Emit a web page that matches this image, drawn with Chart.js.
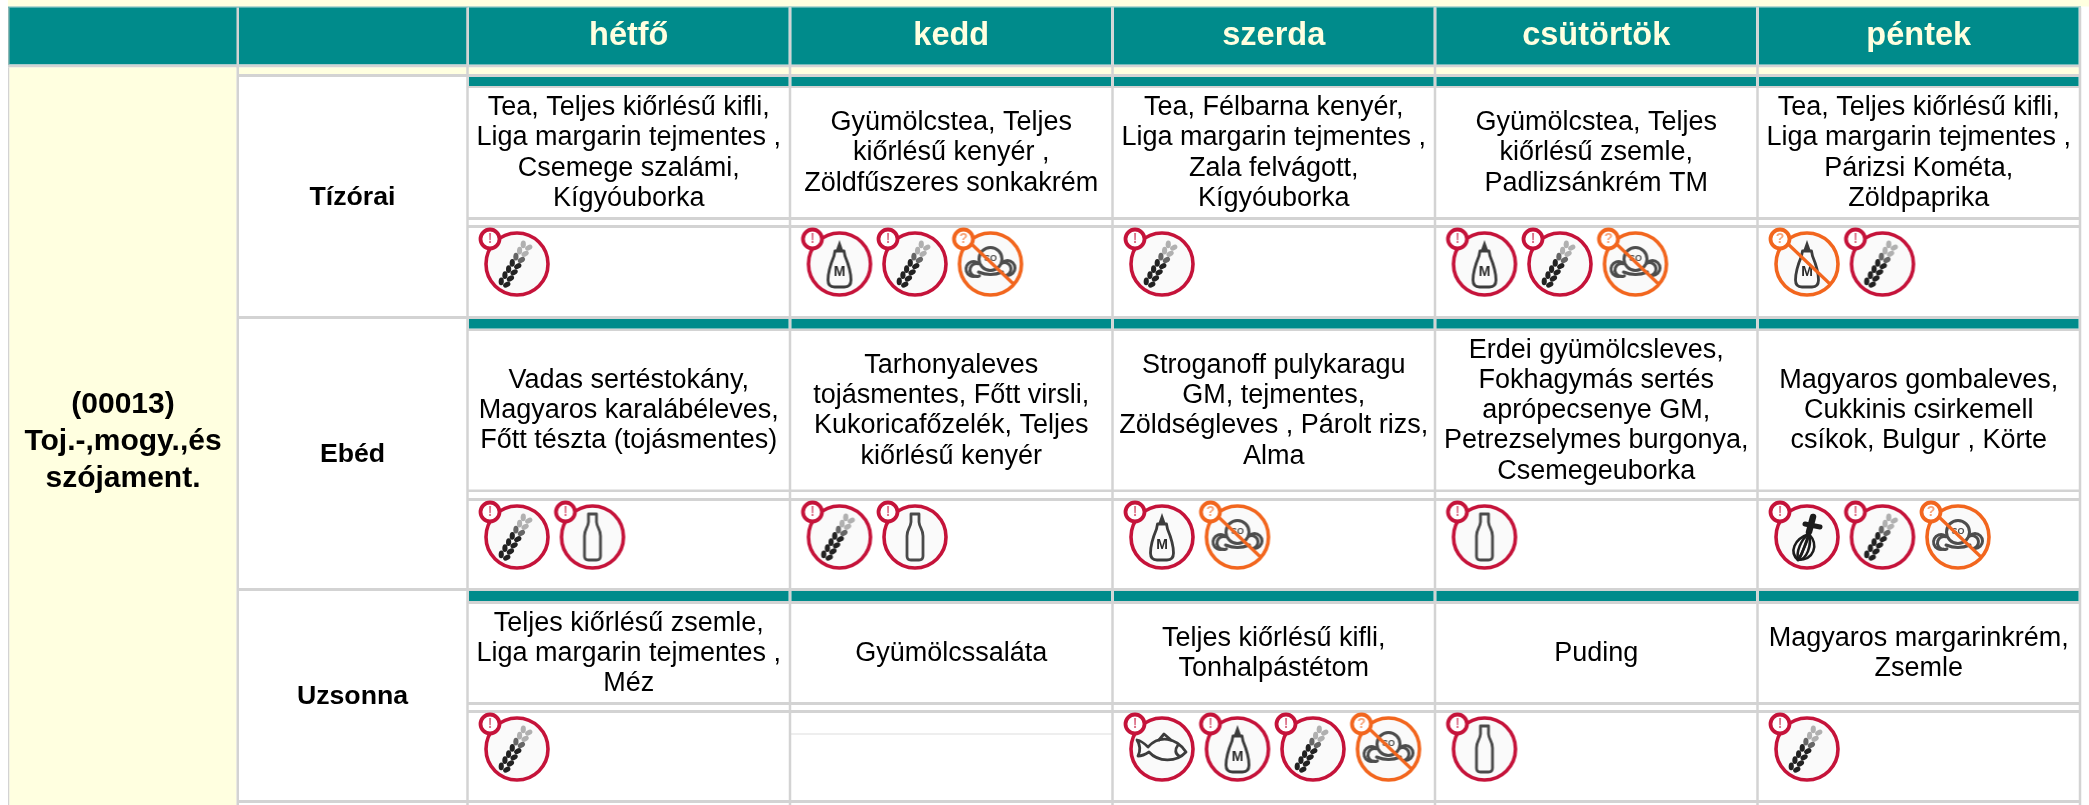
<!DOCTYPE html>
<html lang="hu">
<head>
<meta charset="utf-8">
<title>Étlap</title>
<script src="https://cdn.jsdelivr.net/npm/chart.js@4/dist/chart.umd.min.js"></script>
<style>html,body{margin:0;padding:0;background:#fff;overflow:hidden}canvas{display:block}</style>
</head>
<body>
<canvas id="c" width="2089" height="805"></canvas>
<script>
// ---------- content ----------
const days = ['hétfő','kedd','szerda','csütörtök','péntek'];
const meals = ['Tízórai','Ebéd','Uzsonna'];
const dietLabel = ['(00013)','Toj.-,mogy.,és','szójament.'];
const menuTizorai = [
  ['Tea, Teljes kiőrlésű kifli,','Liga margarin tejmentes ,','Csemege szalámi,','Kígyóuborka'],
  ['Gyümölcstea, Teljes','kiőrlésű kenyér ,','Zöldfűszeres sonkakrém'],
  ['Tea, Félbarna kenyér,','Liga margarin tejmentes ,','Zala felvágott,','Kígyóuborka'],
  ['Gyümölcstea, Teljes','kiőrlésű zsemle,','Padlizsánkrém TM'],
  ['Tea, Teljes kiőrlésű kifli,','Liga margarin tejmentes ,','Párizsi Kométa,','Zöldpaprika']
];
const menuEbed = [
  ['Vadas sertéstokány,','Magyaros karalábéleves,','Főtt tészta (tojásmentes)'],
  ['Tarhonyaleves','tojásmentes, Főtt virsli,','Kukoricafőzelék, Teljes','kiőrlésű kenyér'],
  ['Stroganoff pulykaragu','GM, tejmentes,','Zöldségleves , Párolt rizs,','Alma'],
  ['Erdei gyümölcsleves,','Fokhagymás sertés','aprópecsenye GM,','Petrezselymes burgonya,','Csemegeuborka'],
  ['Magyaros gombaleves,','Cukkinis csirkemell','csíkok, Bulgur , Körte']
];
const menuUzsonna = [
  ['Teljes kiőrlésű zsemle,','Liga margarin tejmentes ,','Méz'],
  ['Gyümölcssaláta'],
  ['Teljes kiőrlésű kifli,','Tonhalpástétom'],
  ['Puding'],
  ['Magyaros margarinkrém,','Zsemle']
];
const iconsTizorai = [['wheat'],['mustard','wheat','soy'],['wheat'],['mustard','wheat','soy'],['mustardMaybe','wheat']];
const iconsEbed = [['wheat','milk'],['wheat','milk'],['mustard','soy'],['milk'],['whisk','wheat','soy']];
const iconsUzsonna = [['wheat'],[],['fish','mustard','wheat','soy'],['milk'],['wheat']];

// ---------- layout (page bands, in y-axis units) ----------
const rowBands = [
  {strip:[77,86],  text:[88,217],  gapA:[217,220], gapB:[225,228], icons:[228,316], end:[316,319]},
  {strip:[319,328.5],text:[331,489.5],gapA:[489.5,492],gapB:[498,501], icons:[501,588], end:[588,591]},
  {strip:[591,601],text:[604,702], gapA:[702,705], gapB:[710,713], icons:[713,800], end:[800,803]}
];
const headerBand = [7.5,64.5];
const menus = [menuTizorai, menuEbed, menuUzsonna];
const iconRows = [iconsTizorai, iconsEbed, iconsUzsonna];
const TEAL='#008B8B', PALE='#FFFFE0', GRID='#D3D3D3';
const RED='#C5133A', ORANGE='#F2661E', INK='#3a3a3a';
const FONT='"Liberation Sans", Arial, sans-serif';

// ---------- allergen pictograms ----------
function base(ring, mark){
  const cv=document.createElement('canvas'); cv.width=88; cv.height=88;
  const g=cv.getContext('2d');
  g.filter='blur(0.7px)';
  g.translate(44,44);
  g.fillStyle='#fafafa'; g.strokeStyle=ring; g.lineWidth=3.6;
  g.beginPath(); g.arc(0,0,31,0,Math.PI*2); g.fill(); g.stroke();
  g.fillStyle='#fff'; g.lineWidth=3.8;
  g.beginPath(); g.arc(-27,-25,9.5,0,Math.PI*2); g.fill(); g.stroke();
  g.fillStyle=ring; g.globalAlpha=.6; g.font='bold 14px '+FONT; g.textAlign='center'; g.textBaseline='middle';
  g.fillText(mark,-27,-25); g.globalAlpha=1;
  return g;
}
function pictogram(ring, mark, draw){
  const g=base(ring,mark);
  g.strokeStyle=INK; g.fillStyle=INK; g.lineWidth=2.6; g.lineJoin='round'; g.lineCap='round';
  draw(g);
  return g.canvas;
}
function drawWheat(g){
  const ax=-13,ay=19,bx=9,by=-18,n=7;
  const ang=Math.atan2(by-ay,bx-ax);
  for(let i=0;i<n;i++){
    const t=i/(n-1), x=ax+(bx-ax)*t, y=ay+(by-ay)*t;
    g.fillStyle = t>0.8 ? '#b0b0b0' : (t>0.6?'#666':'#222');
    for(const s of [-1,1]){
      g.save(); g.translate(x+Math.cos(ang+Math.PI/2)*s*3.2,y+Math.sin(ang+Math.PI/2)*s*3.2);
      g.rotate(ang+s*0.5); g.beginPath(); g.ellipse(0,0,3.9,2.6,0,0,Math.PI*2); g.fill(); g.restore();
    }
  }
}
function drawMilk(g){
  g.strokeStyle='#4a4a4a'; g.lineWidth=2.8;
  g.beginPath();
  g.moveTo(-4,-23); g.lineTo(4,-23); g.lineTo(4,-15);
  g.bezierCurveTo(4.5,-9,8,-8,8,-1); g.lineTo(8,19);
  g.quadraticCurveTo(8,23,4,23); g.lineTo(-4,23); g.quadraticCurveTo(-8,23,-8,19);
  g.lineTo(-8,-1); g.bezierCurveTo(-8,-8,-4.5,-9,-4,-15); g.closePath(); g.stroke();
}
function drawMustard(g){
  g.fillStyle='#3c3c3c';
  g.beginPath(); g.moveTo(0,-24); g.lineTo(3.5,-14); g.lineTo(-3.5,-14); g.closePath(); g.fill();
  g.lineWidth=2.8; g.strokeStyle='#3c3c3c';
  g.beginPath();
  g.moveTo(-4.5,-13); g.lineTo(4.5,-13); g.lineTo(5.5,-8);
  g.bezierCurveTo(8,-2,11.5,8,11.5,16); g.quadraticCurveTo(11.5,23,5,23); g.lineTo(-5,23);
  g.quadraticCurveTo(-11.5,23,-11.5,16); g.bezierCurveTo(-11.5,8,-8,-2,-5.5,-8); g.closePath(); g.stroke();
  g.fillStyle='#2a2a2a'; g.font='bold 14px '+FONT; g.textAlign='center'; g.textBaseline='middle'; g.fillText('M',0,8);
}
function strike(g){
  g.strokeStyle=ORANGE; g.lineWidth=3.2; g.lineCap='butt';
  g.beginPath(); g.moveTo(-19,-20); g.lineTo(23,20); g.stroke();
}
function drawSoy(g){
  g.strokeStyle='#4d4d4d'; g.lineWidth=3;
  g.beginPath(); g.arc(0,-5,11.5,0,Math.PI*2); g.stroke();
  g.beginPath(); g.arc(-17,5,7.5,Math.PI*.4,Math.PI*1.7); g.stroke();
  g.beginPath(); g.arc(-14,6,6.5,Math.PI*.35,Math.PI*1.6); g.stroke();
  g.beginPath(); g.arc(17,4,7.5,-Math.PI*.75,Math.PI*.5); g.stroke();
  g.beginPath(); g.arc(14,5,6.5,-Math.PI*.65,Math.PI*.4); g.stroke();
  g.beginPath(); g.moveTo(-12,8); g.quadraticCurveTo(0,13,12,8); g.stroke();
  g.fillStyle='#4d4d4d'; g.font='bold 9px '+FONT; g.textAlign='center'; g.textBaseline='middle'; g.fillText('SO',0,-5);
  strike(g);
}
function drawFish(g){
  g.strokeStyle='#3c3c3c'; g.lineWidth=2.8;
  g.beginPath();
  g.moveTo(-14,-2);
  g.quadraticCurveTo(-20,-8,-25,-9); g.quadraticCurveTo(-20,-1,-24,7);
  g.quadraticCurveTo(-19,7,-13,3);
  g.bezierCurveTo(-4,13,14,14,24,3);
  g.bezierCurveTo(14,-12,-3,-14,-14,-2); g.stroke();
  g.beginPath(); g.moveTo(-3,-9); g.lineTo(2,-15); g.lineTo(9,-9); g.stroke();
  g.beginPath(); g.moveTo(16,-4); g.quadraticCurveTo(11,3,17,7); g.stroke();
}
function drawWhisk(g){
  g.strokeStyle='#1c1c1c'; g.fillStyle='#1c1c1c';
  g.lineWidth=6.5; g.beginPath(); g.moveTo(6,-20); g.lineTo(2,-5); g.stroke();
  g.lineWidth=5; g.beginPath(); g.moveTo(-2,-13); g.lineTo(13,-10); g.stroke();
  g.lineWidth=2.6;
  for(const k of [-11,-4,3]){
    g.beginPath(); g.moveTo(2,-3); g.bezierCurveTo(k-2,2,k-7,15,-9,23); g.bezierCurveTo(k+4,23,k+9,8,2,-3); g.stroke();
  }
}
const iconCanvas = {
  wheat: pictogram(RED,'!',drawWheat),
  milk: pictogram(RED,'!',drawMilk),
  mustard: pictogram(RED,'!',drawMustard),
  mustardMaybe: pictogram(ORANGE,'?',g=>{drawMustard(g); strike(g);}),
  soy: pictogram(ORANGE,'?',drawSoy),
  fish: pictogram(RED,'!',drawFish),
  whisk: pictogram(RED,'!',drawWhisk)
};

// ---------- datasets ----------
const BAND=322.5, FIRST_ICON=49.5, ICON_STEP=75.5, ICON_DROP=36;
const bar = (band) => days.map(()=>band);
const barDatasets = [headerBand, ...rowBands.map(r=>r.strip)].map(b=>({
  type:'bar', data:bar(b), backgroundColor:TEAL, grouped:false,
  categoryPercentage:1, barPercentage:.991, order:2, xAxisID:'x', yAxisID:'y'
}));
const iconDatasets = Object.keys(iconCanvas).map(kind=>{
  const pts=[];
  iconRows.forEach((row,r)=>row.forEach((list,d)=>list.forEach((k,s)=>{
    if(k===kind) pts.push({x:d-.5+(FIRST_ICON+s*ICON_STEP)/BAND, y:rowBands[r].icons[0]+ICON_DROP});
  })));
  return {type:'scatter', data:pts, pointStyle:iconCanvas[kind], pointRadius:30, clip:false, order:1,
          xAxisID:'xDay', yAxisID:'y', showLine:false};
});

// ---------- table frame + text ----------
const tablePlugin = {
  id:'table',
  beforeDatasetsDraw(chart){
    const {ctx} = chart, y=chart.scales.y, xd=chart.scales.xDay;
    const rx = xd.getPixelForValue(4.5);
    const dx0 = xd.getPixelForValue(-.5);
    const Y=v=>y.getPixelForValue(v);
    const rect=(x1,a,x2,b,c)=>{ctx.fillStyle=c; ctx.fillRect(x1,Y(a),x2-x1,Y(b)-Y(a));};
    ctx.save();
    rect(8,0,2089,6.5,PALE);
    rect(8,6.5,rx+1,7.5,'#6fb5b2');
    rect(8,7.5,dx0,64.5,TEAL);
    rect(8,64.5,rx+1,67.5,GRID);
    rect(8,67.5,9.5,805,GRID);
    rect(8,7.5,9.5,64.5,'#8fb8b6');
    rect(9.5,67.5,236.5,805,PALE);
    rect(239,67.5,rx,74,PALE);
    rect(239,74,rx+1,77,GRID);
    rowBands.forEach(b=>{
      rect(239,b.end[0],rx+1,b.end[1],GRID);
      rect(dx0,b.strip[1],rx,b.text[0],GRID);
      rect(dx0,b.gapA[0],rx,b.gapA[1],GRID);
      rect(dx0,b.gapB[0],rx,b.gapB[1],GRID);
    });
    // kedd / Uzsonna: empty icon row has an inner rule
    rect(xd.getPixelForValue(.5),733.5,xd.getPixelForValue(1.5),734.5,'#DDDDDD');
    // vertical rules
    rect(236.5,7.5,239,805,GRID);
    for(let i=-.5;i<=4.5;i++){
      const px=xd.getPixelForValue(i);
      rect(px-1.25,7.5,px+1.25,805,GRID);
    }
    ctx.restore();
  },
  afterDatasetsDraw(chart){
    const {ctx} = chart, y=chart.scales.y, x=chart.scales.x;
    const Y=v=>y.getPixelForValue(v);
    ctx.save();
    ctx.textAlign='center'; ctx.textBaseline='middle';
    ctx.fillStyle=PALE; ctx.font='bold 32.5px '+FONT;
    days.forEach((d,i)=>ctx.fillText(d,x.getPixelForValue(i),Y((headerBand[0]+headerBand[1])/2)));
    ctx.fillStyle='#000';
    ctx.font='bold 30px '+FONT;
    dietLabel.forEach((t,i)=>ctx.fillText(t,123,Y(405+i*37)));
    ctx.font='bold 26.7px '+FONT;
    meals.forEach((m,r)=>ctx.fillText(m,352.5,Y((rowBands[r].strip[0]+rowBands[r].end[1])/2)));
    ctx.font='27px '+FONT;
    menus.forEach((row,r)=>row.forEach((lines,d)=>{
      const mid=(rowBands[r].text[0]+rowBands[r].text[1])/2+.5;
      lines.forEach((t,i)=>ctx.fillText(t,x.getPixelForValue(d),Y(mid+(i-(lines.length-1)/2)*30.2)));
    }));
    ctx.restore();
  }
};

new Chart(document.getElementById('c'),{
  data:{labels:days,datasets:[...barDatasets,...iconDatasets]},
  plugins:[tablePlugin],
  options:{
    responsive:false, animation:false, events:[],
    layout:{autoPadding:false,padding:{left:467.5,right:9,top:0,bottom:0}},
    plugins:{legend:{display:false},tooltip:{enabled:false},title:{display:false}},
    scales:{
      x:{type:'category',labels:days,display:false,offset:true},
      xDay:{type:'linear',min:-.5,max:4.5,display:false},
      y:{type:'linear',min:0,max:805,reverse:true,display:false}
    }
  }
});
</script>
</body>
</html>
